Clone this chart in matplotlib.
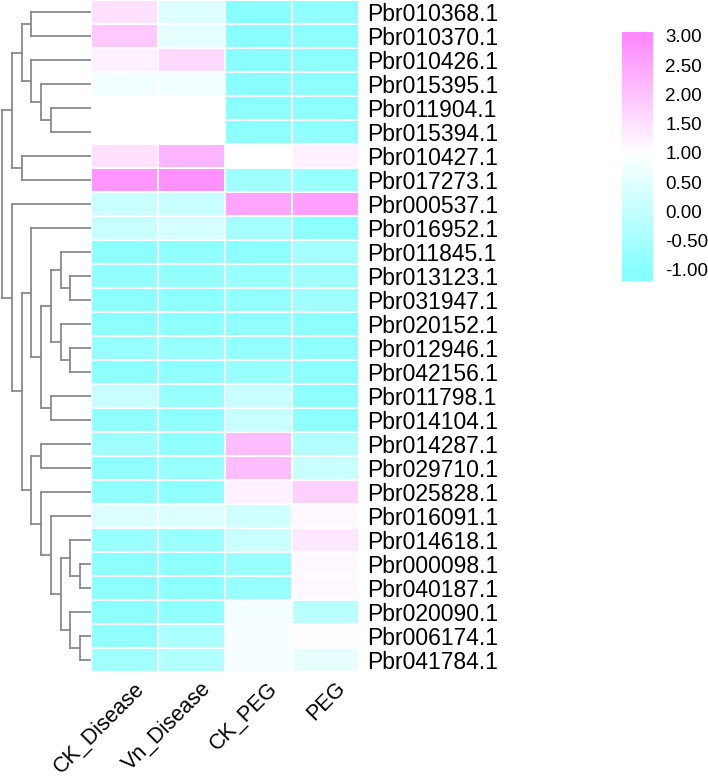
import numpy as np
import matplotlib
matplotlib.use("Agg")
import matplotlib.pyplot as plt
from matplotlib.colors import LinearSegmentedColormap, Normalize
from matplotlib.transforms import ScaledTranslation

plt.rcParams['font.family'] = ['Liberation Sans', 'DejaVu Sans']

# ---------------- data ----------------
genes = ["Pbr010368.1", "Pbr010370.1", "Pbr010426.1", "Pbr015395.1", "Pbr011904.1",
         "Pbr015394.1", "Pbr010427.1", "Pbr017273.1", "Pbr000537.1", "Pbr016952.1",
         "Pbr011845.1", "Pbr013123.1", "Pbr031947.1", "Pbr020152.1", "Pbr012946.1",
         "Pbr042156.1", "Pbr011798.1", "Pbr014104.1", "Pbr014287.1", "Pbr029710.1",
         "Pbr025828.1", "Pbr016091.1", "Pbr014618.1", "Pbr000098.1", "Pbr040187.1",
         "Pbr020090.1", "Pbr006174.1", "Pbr041784.1"]
samples = ["CK_Disease", "Vn_Disease", "CK_PEG", "PEG"]

ck_disease = [1.52, 1.90, 1.25, 0.77, 1.00, 1.00, 1.50, 2.75, 0.10, 0.05,
              -0.90, -0.80, -0.92, -0.92, -0.75, -0.92, 0.05, -0.88, -0.60, -0.85,
              -0.85, 0.40, -0.70, -0.90, -0.90, -0.90, -0.85, -0.55]
vn_disease = [0.43, 0.57, 1.65, 0.77, 1.00, 1.00, 2.25, 2.85, 0.05, 0.25,
              -0.85, -0.80, -0.92, -0.90, -0.75, -0.85, -0.75, -0.85, -0.85, -0.75,
              -0.85, 0.40, -0.70, -0.90, -0.90, -0.85, -0.40, -0.30]
ck_peg = [-0.97, -0.95, -0.95, -0.95, -0.92, -0.92, 1.00, -0.60, 2.50, -0.50,
          -0.90, -0.70, -0.80, -0.85, -0.80, -0.70, 0.05, 0.05, 2.10, 2.10,
          1.25, 0.20, 0.10, -0.70, -0.75, 0.80, 0.85, 0.85]
peg = [-0.88, -0.92, -0.90, -0.92, -0.90, -0.85, 1.25, -0.70, 2.60, -0.90,
       -0.50, -0.60, -0.60, -0.90, -0.85, -0.90, -0.90, -0.90, -0.30, 0.10,
       1.80, 1.10, 1.40, 1.10, 1.10, -0.15, 1.05, 0.60]

# row dendrogram (nested merges of row indices)
row_tree = [[[[0, 1], [2, [3, [4, 5]]]], [6, 7]],
            [8, [[9, [[[10, [11, 12]], [13, [14, 15]]], [16, 17]]],
                 [[18, 19], [20, [21, [[22, [23, 24]], [25, [26, 27]]]]]]]]]

cbar_ticks = [3.00, 2.50, 2.00, 1.50, 1.00, 0.50, 0.00, -0.50, -1.00]

# ---------------- layout ----------------
W, H = 708, 781
fig = plt.figure(figsize=(W / 100, H / 100), dpi=100)


def px_axes(x, y, w, h):
    return fig.add_axes([x / W, 1 - (y + h) / H, w / W, h / H])


cmap = LinearSegmentedColormap.from_list("cw", ["#88FFFF", "#FFFFFF", "#FF88FF"])
norm = Normalize(vmin=-1, vmax=3)

values = np.column_stack([ck_disease, vn_disease, ck_peg, peg])
n_rows, n_cols = values.shape

# heatmap
ax = px_axes(91, 0, 268, 672)
ax.pcolormesh(values, cmap=cmap, norm=norm, edgecolors="white", linewidth=1.1)
ax.set_xlim(0, n_cols)
ax.set_ylim(n_rows, 0)
for s in ax.spines.values():
    s.set_visible(False)
ax.yaxis.tick_right()
ax.set_yticks(np.arange(n_rows) + 0.5)
ax.set_yticklabels(genes, fontsize=16.5)
ax.tick_params(axis="y", length=0, pad=6)
ax.set_xticks([])
off = ScaledTranslation(9 / 100, -6 / 100, fig.dpi_scale_trans)
for i, s in enumerate(samples):
    ax.text(i + 0.5, n_rows, s, rotation=45, ha="right", va="top",
            rotation_mode="anchor", fontsize=15.5,
            transform=ax.transData + off)

# dendrogram
dax = px_axes(0, 0, 91, 672)
step = 9.75
dax.set_xlim(-2 / step, 89 / step)
dax.set_ylim(n_rows, 0)
dax.axis("off")
leaf_x = 88 / step
line_kw = dict(color="#8a8a8a", lw=1.3, solid_capstyle="projecting")


def draw(node, depth):
    if isinstance(node, int):
        return node + 0.5, leaf_x
    ys = []
    for child in node:
        cy, cx = draw(child, depth + 1)
        dax.plot([depth, cx], [cy, cy], **line_kw)
        ys.append(cy)
    dax.plot([depth, depth], [min(ys), max(ys)], **line_kw)
    return (min(ys) + max(ys)) / 2, depth


draw(row_tree, 0)

# colorbar
cax = px_axes(622, 32, 31, 249)
lo = -1 - 11 / 58.5
hi = 3 + 4 / 58.5
grad = np.linspace(lo, hi, 400).reshape(-1, 1)
cax.imshow(grad, cmap=cmap, norm=norm, aspect="auto", origin="lower",
           extent=[0, 1, lo, hi])
cax.set_ylim(lo, hi)
cax.set_xticks([])
cax.yaxis.tick_right()
cax.set_yticks(cbar_ticks)
cax.set_yticklabels([f"{t:.2f}" for t in cbar_ticks], fontsize=13.5)
cax.tick_params(axis="y", length=0, pad=9)
for s in cax.spines.values():
    s.set_visible(False)

fig.savefig("out.png", dpi=100)
